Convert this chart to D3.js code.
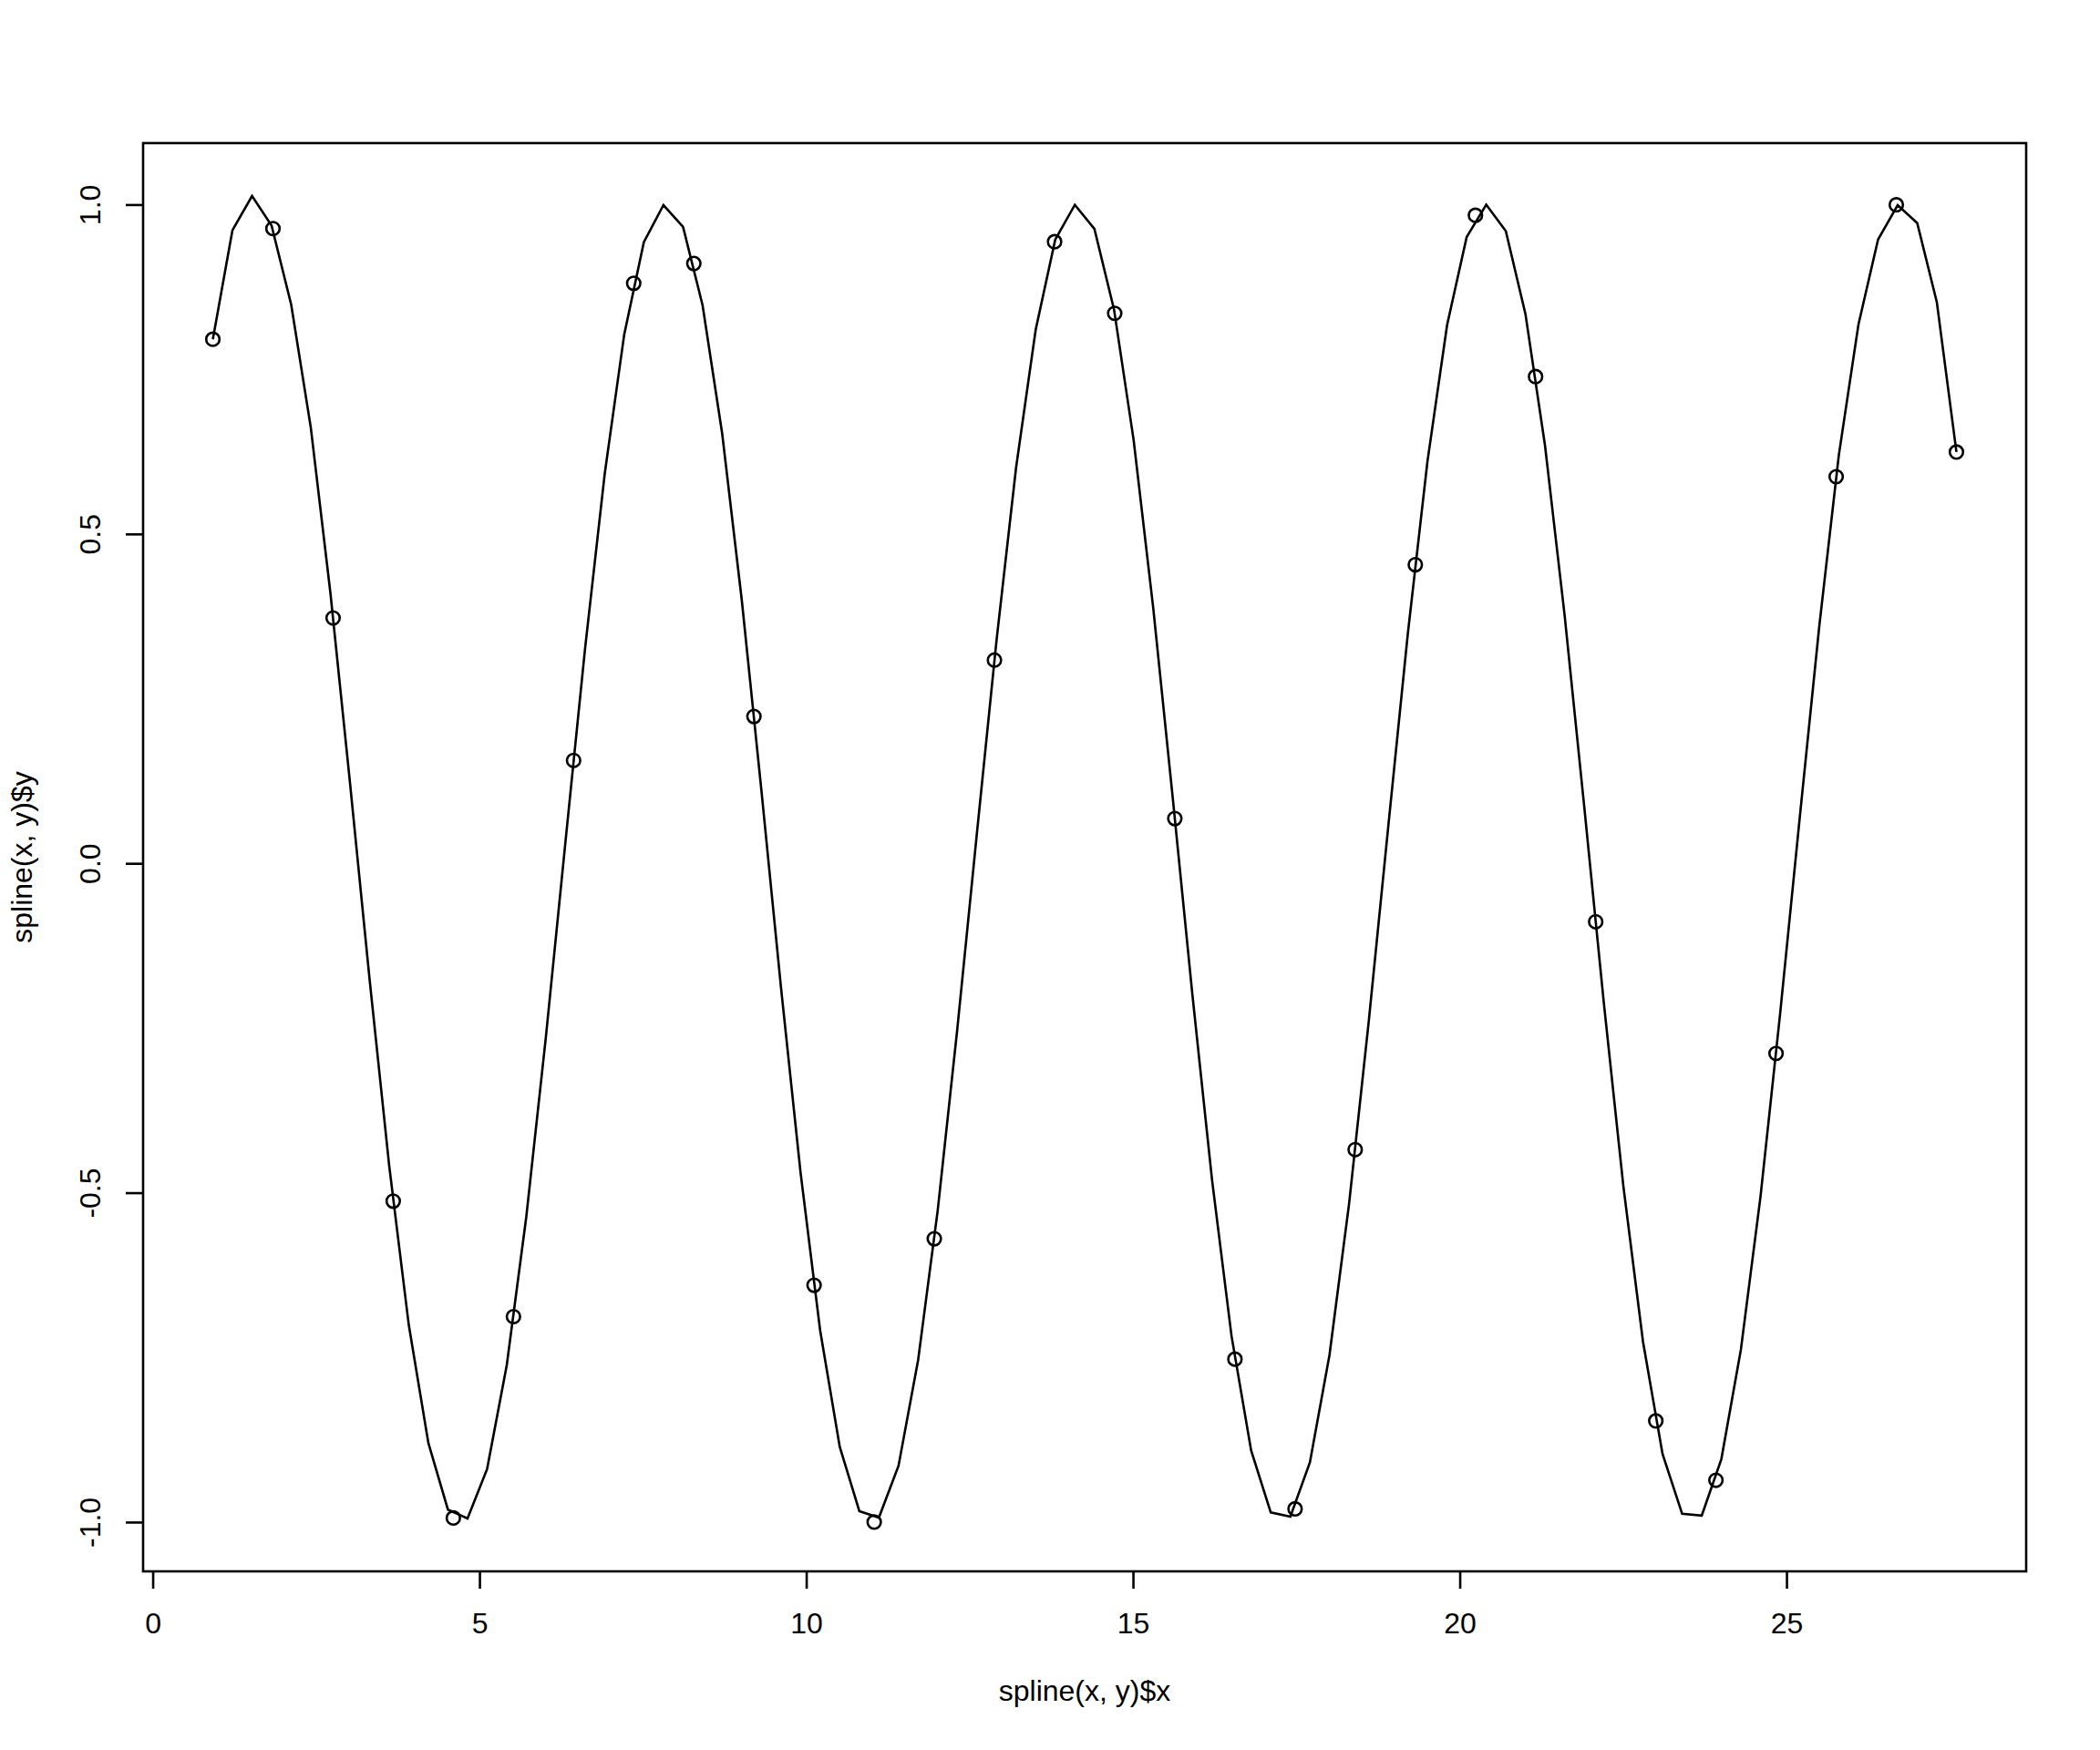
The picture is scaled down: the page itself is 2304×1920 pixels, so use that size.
<!DOCTYPE html>
<html>
<head>
<meta charset="utf-8">
<script src="https://cdn.jsdelivr.net/npm/d3@7"></script>
<style>
  html, body { margin: 0; padding: 0; background: #fff; }
  svg text { font-family: "Liberation Sans", Arial, Helvetica, sans-serif; fill: #000; }
</style>
</head>
<body>
<svg id="chart" width="2304" height="1920"></svg>
<script>
// Points x, y
const pointX = [0.92,1.84,2.76,3.68,4.60,5.52,6.44,7.36,8.28,9.20,10.12,11.04,11.96,12.88,13.80,14.72,15.64,16.56,17.48,18.40,19.32,20.24,21.16,22.08,23.00,23.92,24.84,25.76,26.68,27.60];
const pointY = [0.7956,0.9636,0.3724,-0.5128,-0.9937,-0.6881,0.1562,0.8805,0.9105,0.2229,-0.6405,-1.0000,-0.5699,0.3085,0.9436,0.8349,0.0679,-0.7526,-0.9799,-0.4346,0.4533,0.9838,0.7389,-0.0887,-0.8464,-0.9365,-0.2886,0.5869,0.9997,0.6244];

// spline(x, y) output (90 points)
const splineX = [0.920,1.220,1.520,1.819,2.119,2.419,2.719,3.018,3.318,3.618,
  3.918,4.218,4.517,4.817,5.117,5.417,5.716,6.016,6.316,6.616,
  6.916,7.215,7.515,7.815,8.115,8.414,8.714,9.014,9.314,9.613,
  9.913,10.213,10.513,10.813,11.112,11.412,11.712,12.012,12.311,12.611,
  12.911,13.211,13.511,13.810,14.110,14.410,14.710,15.009,15.309,15.609,
  15.909,16.209,16.508,16.808,17.108,17.408,17.707,18.007,18.307,18.607,
  18.907,19.206,19.506,19.806,20.106,20.405,20.705,21.005,21.305,21.604,
  21.904,22.204,22.504,22.804,23.103,23.403,23.703,24.003,24.302,24.602,
  24.902,25.202,25.502,25.801,26.101,26.401,26.701,27.000,27.300,27.600];
const splineY = [0.7956,0.961,1.013,0.968,0.848,0.6614,0.4105,0.1229,-0.1757,-0.4585,
  -0.7006,-0.8799,-0.9810,-0.9945,-0.9193,-0.7621,-0.5369,-0.2638,0.0328,0.3264,
  0.5910,0.8029,0.9429,0.9992,0.9662,0.8470,0.6523,0.3994,0.1108,-0.1876,
  -0.4693,-0.7091,-0.8858,-0.9833,-0.9932,-0.9145,-0.7542,-0.5267,-0.2522,0.0449,
  0.3378,0.6007,0.8100,0.9468,0.9996,0.9630,0.8406,0.6432,0.3883,0.0988,
  -0.1994,-0.4800,-0.7177,-0.8913,-0.9854,-0.9917,-0.9095,-0.7462,-0.5164,-0.2404,
  0.0569,0.3492,0.6103,0.8170,0.9508,0.9999,0.9597,0.8340,0.6339,0.3771,
  0.0868,-0.2113,-0.4905,-0.7261,-0.8967,-0.9874,-0.9901,-0.9044,-0.7381,-0.5060,
  -0.2287,0.0690,0.3605,0.6200,0.818,0.947,0.999,0.972,0.852,0.6244];

const xTicks = [0, 5, 10, 15, 20, 25];
const xTickLabels = ["0", "5", "10", "15", "20", "25"];
const yTicks = [-1.0, -0.5, 0.0, 0.5, 1.0];
const yTickLabels = ["-1.0", "-0.5", "0.0", "0.5", "1.0"];
const xTitle = "spline(x, y)$x";
const yTitle = "spline(x, y)$y";

const plot = { left: 157, right: 2223, top: 157, bottom: 1724 };
const FONT = 32;
const LW = 2.6;

// R-style 4% range extension
function rExtend(ext) { const r = ext[1] - ext[0]; return [ext[0] - 0.04 * r, ext[1] + 0.04 * r]; }

const x = d3.scaleLinear().domain(rExtend(d3.extent(splineX))).range([plot.left, plot.right]);
const y = d3.scaleLinear().domain(rExtend(d3.extent(splineY))).range([plot.bottom, plot.top]);

const svg = d3.select("#chart");
svg.append("rect").attr("width", 2304).attr("height", 1920).attr("fill", "#fff");

// line
const lineData = splineX.map((d, i) => [d, splineY[i]]);
svg.append("path")
  .datum(lineData)
  .attr("fill", "none")
  .attr("stroke", "#000")
  .attr("stroke-width", LW)
  .attr("stroke-linejoin", "miter")
  .attr("d", d3.line().x(d => x(d[0])).y(d => y(d[1])));

// points
svg.append("g").selectAll("circle")
  .data(pointX.map((d, i) => [d, pointY[i]]))
  .join("circle")
  .attr("cx", d => x(d[0]))
  .attr("cy", d => y(d[1]))
  .attr("r", 7.3)
  .attr("fill", "none")
  .attr("stroke", "#000")
  .attr("stroke-width", LW);

// box
svg.append("rect")
  .attr("x", plot.left).attr("y", plot.top)
  .attr("width", plot.right - plot.left).attr("height", plot.bottom - plot.top)
  .attr("fill", "none").attr("stroke", "#000").attr("stroke-width", LW);

// x axis
const gx = svg.append("g").attr("transform", `translate(0,${plot.bottom})`)
  .call(d3.axisBottom(x).tickValues(xTicks).tickSize(19).tickFormat((d, i) => xTickLabels[i]));
gx.select(".domain").remove();
gx.selectAll(".tick line").attr("stroke", "#000").attr("stroke-width", LW);
gx.selectAll(".tick text").attr("y", 68).attr("dy", 0).attr("font-size", FONT)
  .attr("font-family", "Liberation Sans, Arial, sans-serif").attr("fill", "#000");

// y axis
const gy = svg.append("g").attr("transform", `translate(${plot.left},0)`)
  .call(d3.axisLeft(y).tickValues(yTicks).tickSize(19).tickFormat((d, i) => yTickLabels[i]));
gy.select(".domain").remove();
gy.selectAll(".tick line").attr("stroke", "#000").attr("stroke-width", LW);
gy.selectAll(".tick text")
  .attr("x", 0).attr("y", 0).attr("dy", 0)
  .attr("transform", "translate(-47,0) rotate(-90)")
  .attr("text-anchor", "middle")
  .attr("font-size", FONT)
  .attr("font-family", "Liberation Sans, Arial, sans-serif").attr("fill", "#000");

// titles
svg.append("text")
  .attr("x", (plot.left + plot.right) / 2).attr("y", 1866)
  .attr("text-anchor", "middle").attr("font-size", FONT)
  .text(xTitle);
svg.append("text")
  .attr("transform", `translate(35,${(plot.top + plot.bottom) / 2}) rotate(-90)`)
  .attr("text-anchor", "middle").attr("font-size", FONT)
  .text(yTitle);
</script>
</body>
</html>
